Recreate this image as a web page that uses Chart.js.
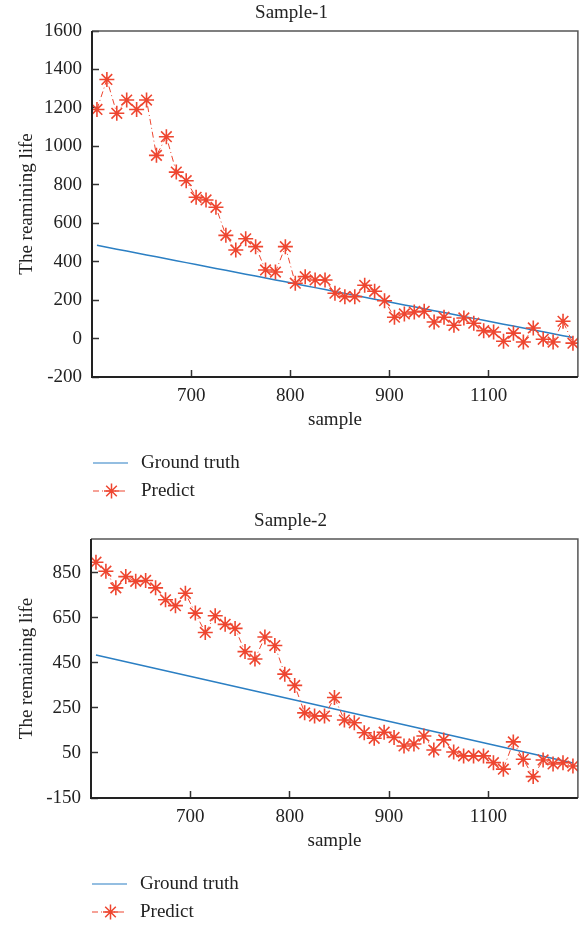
<!DOCTYPE html>
<html>
<head>
<meta charset="utf-8">
<script src="https://cdn.jsdelivr.net/npm/chart.js@4/dist/chart.umd.min.js"></script>
<style>
  body { margin: 0; background: #fff; }
  canvas { display: block; }
</style>
</head>
<body>
<canvas id="chart1" width="587" height="508"></canvas>
<canvas id="chart2" width="587" height="420"></canvas>
<script>
// sample index (x) shared by both panels
var samples = [605,615,625,635,645,655,665,675,685,695,705,715,725,735,745,755,765,775,785,795,
               805,815,825,835,845,855,865,875,885,895,905,915,925,935,945,955,965,975,985,995,
               1005,1015,1025,1035,1045,1055,1065,1075,1085];

var groundTruth = [485,475,465,455,445,435,425,415,405,395,385,375,365,355,345,335,325,315,305,295,
                   285,275,265,255,245,235,225,215,205,195,185,175,165,155,145,135,125,115,105,95,
                   85,75,65,55,45,35,25,15,5];

var predict1 = [1192,1348,1172,1241,1192,1241,953,1050,866,821,735,721,683,537,461,519,478,357,346,478,
                288,322,305,305,236,218,218,277,246,197,111,128,138,142,86,111,69,107,80,41,
                34,-14,28,-18,55,-4,-18,90,-24];

var predict2 = [897,857,783,833,812,816,783,730,704,759,671,585,659,621,603,500,467,565,527,400,
                350,228,214,214,296,196,184,140,115,142,119,81,90,125,63,108,54,37,37,37,
                7,-22,99,22,-55,19,1,7,-8];

var seriesNames = ["Ground truth", "Predict"];

var xTicks = [700, 800, 900, 1000];
var xTickLabels = ["700", "800", "900", "1100"];
var yTicks1 = [-200, 0, 200, 400, 600, 800, 1000, 1200, 1400, 1600];
var yTicks2 = [-150, 50, 250, 450, 650, 850];

var blue = "#2b7fc3";
var red = "#ee4630";
var dashDot = [6, 3, 1, 3];

Chart.defaults.font.family = '"Liberation Serif", "Times New Roman", serif';
Chart.defaults.font.size = 19;
Chart.defaults.color = "#222";

function pts(ys) {
  return samples.map(function (s, i) { return { x: s, y: ys[i] }; });
}

function star(ctx, x, y, r) {
  var d = r * Math.SQRT1_2;
  ctx.beginPath();
  ctx.moveTo(x - r, y); ctx.lineTo(x + r, y);
  ctx.moveTo(x, y - r); ctx.lineTo(x, y + r);
  ctx.moveTo(x - d, y - d); ctx.lineTo(x + d, y + d);
  ctx.moveTo(x - d, y + d); ctx.lineTo(x + d, y - d);
  ctx.stroke();
}

// box round the plot area + legend list under the axis title
var framePlugin = {
  id: "frame",
  afterDraw: function (chart) {
    var ctx = chart.ctx, a = chart.chartArea;
    ctx.save();
    ctx.lineWidth = 1.5;
    ctx.strokeStyle = "#555";
    ctx.beginPath();
    ctx.moveTo(a.left, a.top); ctx.lineTo(a.right, a.top); ctx.lineTo(a.right, a.bottom);
    ctx.stroke();
    ctx.lineWidth = 2;
    ctx.strokeStyle = "#222";
    ctx.beginPath();
    ctx.moveTo(a.left, a.top); ctx.lineTo(a.left, a.bottom); ctx.lineTo(a.right, a.bottom);
    ctx.stroke();

    var x0 = a.left + 1, x1 = a.left + 36;
    var rows = [a.bottom + 86, a.bottom + 114];
    ctx.font = '19px "Liberation Serif", serif';
    ctx.textBaseline = "middle";
    ctx.textAlign = "left";
    seriesNames.forEach(function (name, i) {
      var y = rows[i];
      ctx.lineWidth = 1.2;
      if (i === 0) {
        ctx.strokeStyle = blue;
        ctx.setLineDash([]);
      } else {
        ctx.strokeStyle = red;
        ctx.setLineDash(dashDot);
      }
      ctx.beginPath(); ctx.moveTo(x0, y); ctx.lineTo(x1, y); ctx.stroke();
      ctx.setLineDash([]);
      if (i === 1) { ctx.lineWidth = 1.5; star(ctx, (x0 + x1) / 2 + 1, y, 7.5); }
      ctx.fillStyle = "#222";
      ctx.fillText(name, a.left + 49, y);
    });
    ctx.restore();
  }
};

function makeChart(id, title, yTitle, predict, yTicks, yMin, yMax, leftW, padRight, padBottom) {
  return new Chart(document.getElementById(id), {
    type: "line",
    data: {
      datasets: [{
        label: seriesNames[0],
        data: pts(groundTruth),
        borderColor: blue,
        borderWidth: 1.5,
        pointRadius: 0,
        order: 1
      }, {
        label: seriesNames[1],
        data: pts(predict),
        borderColor: red,
        borderWidth: 1,
        borderDash: dashDot,
        pointStyle: "star",
        pointRadius: 7.5,
        pointBorderWidth: 1.6,
        pointBorderColor: red,
        pointBackgroundColor: red,
        order: 0
      }]
    },
    options: {
      responsive: false,
      animation: false,
      layout: { padding: { top: 0, left: 0, right: padRight, bottom: padBottom } },
      plugins: {
        legend: { display: false },
        tooltip: { enabled: false },
        title: {
          display: true,
          text: title,
          font: { size: 19, weight: "normal" },
          color: "#222",
          padding: { top: 2, bottom: 6.2 }
        }
      },
      scales: {
        x: {
          type: "linear",
          min: 600,
          max: 1090,
          border: { display: false },
          grid: { drawOnChartArea: false, tickLength: -7, tickColor: "#333", tickWidth: 1.5 },
          afterBuildTicks: function (s) { s.ticks = xTicks.map(function (v) { return { value: v }; }); },
          afterFit: function (s) { s.height = 54; },
          ticks: {
            padding: 15,
            color: "#222",
            callback: function (v, i) { return xTickLabels[i]; }
          },
          title: { display: true, text: "sample", color: "#222", padding: { top: 0, bottom: 0 } }
        },
        y: {
          min: yMin,
          max: yMax,
          border: { display: false },
          grid: { drawOnChartArea: false, tickLength: -7, tickColor: "#333", tickWidth: 1.5 },
          afterBuildTicks: function (s) { s.ticks = yTicks.map(function (v) { return { value: v }; }); },
          afterFit: function (s) { s.width = leftW; },
          ticks: {
            padding: 17,
            color: "#222",
            callback: function (v) { return String(v); }
          },
          title: { display: true, text: yTitle, color: "#222", padding: { top: 15.6, bottom: 0 } }
        }
      }
    },
    plugins: [framePlugin]
  });
}

makeChart("chart1", "Sample-1", "The reamining life", predict1, yTicks1, -200, 1600, 92, 4, 77);
makeChart("chart2", "Sample-2", "The remaining life", predict2, yTicks2, -150, 1000, 91, 6, 76);
</script>
</body>
</html>
